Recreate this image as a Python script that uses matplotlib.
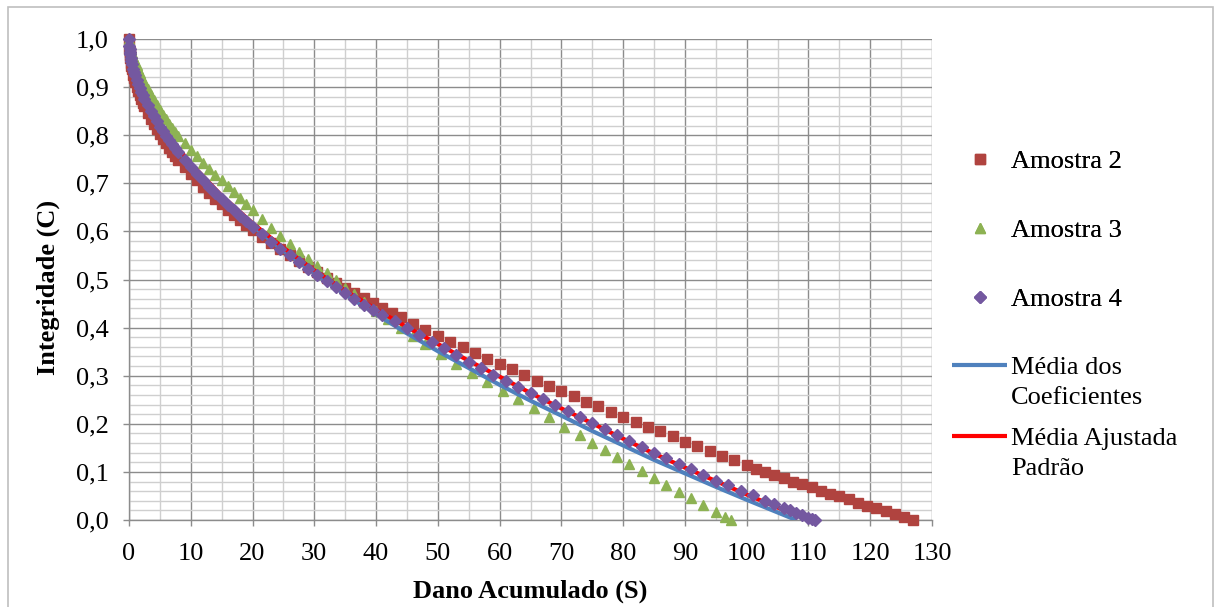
import matplotlib
matplotlib.use("Agg")
import matplotlib.pyplot as plt
from matplotlib.ticker import MultipleLocator, FuncFormatter
from matplotlib.patches import Rectangle
from matplotlib.legend_handler import HandlerLine2D

plt.rcParams['font.family'] = ['Liberation Serif', 'DejaVu Serif']

# ---------------- data ----------------
s_a2 = [0, 0.05, 0.1, 0.15, 0.2, 0.3, 0.4, 0.5, 0.7, 0.85, 1, 1.25, 1.5, 1.75, 2, 2.25, 2.5, 3, 3.5, 4, 4.5,
        5, 5.5, 6, 6.5, 7, 7.5, 8, 9, 10, 11, 12, 13, 14, 15, 16, 17, 18, 19, 20,
        21.5, 23, 24.5, 26, 27.5, 29, 30.5, 32, 33.5, 35, 36.5, 38, 39.5, 41, 42.5, 44, 46, 48, 50, 52, 54,
        56, 58, 60, 62, 64, 66, 68, 70, 72, 74, 76, 78, 80, 82, 84, 86, 88, 90, 92, 94, 96, 98, 100, 101.5,
        103, 104.5, 106, 107.5, 109, 110.5, 112, 113.5, 115, 116.5, 118, 119.5, 121, 122.5, 124, 125.5, 127]
c_a2 = [1.000, 0.980, 0.972, 0.966, 0.960, 0.951, 0.944, 0.937, 0.926, 0.918, 0.911, 0.901, 0.891, 0.883,
        0.875, 0.867, 0.860, 0.846, 0.834, 0.823, 0.812, 0.802, 0.792, 0.783, 0.774, 0.765, 0.757, 0.749,
        0.734, 0.720, 0.706, 0.693, 0.680, 0.668, 0.656, 0.645, 0.634, 0.624, 0.613, 0.603, 0.589, 0.575,
        0.564, 0.551, 0.539, 0.527, 0.515, 0.504, 0.493, 0.482, 0.471, 0.461, 0.451, 0.441, 0.431, 0.422,
        0.408, 0.395, 0.383, 0.371, 0.359, 0.347, 0.335, 0.324, 0.313, 0.301, 0.290, 0.279, 0.268, 0.257,
        0.246, 0.236, 0.225, 0.215, 0.204, 0.194, 0.184, 0.174, 0.163, 0.153, 0.144, 0.134, 0.124, 0.115,
        0.107, 0.100, 0.093, 0.087, 0.080, 0.074, 0.068, 0.061, 0.055, 0.049, 0.043, 0.036, 0.030, 0.024,
        0.018, 0.012, 0.006, 0.000]

s_a3 = [0, 0.05, 0.1, 0.15, 0.2, 0.3, 0.4, 0.5, 0.7, 0.85, 1, 1.25, 1.5, 1.75, 2, 2.25, 2.5, 3, 3.5, 4, 4.5,
        5, 5.5, 6, 6.5, 7, 7.5, 8, 9, 10, 11, 12, 13, 14, 15, 16, 17, 18, 19, 20,
        21.5, 23, 24.5, 26, 27.5, 29, 30.5, 32, 33.5, 35, 36.5, 38, 40, 42, 44, 46, 48, 50.5, 53, 55.5, 58,
        60.5, 63, 65.5, 68, 70.5, 73, 75, 77, 79, 81, 83, 85, 87, 89, 91, 93, 95, 96.5, 97.5]
c_a3 = [1.000, 0.994, 0.990, 0.987, 0.984, 0.979, 0.974, 0.970, 0.963, 0.958, 0.953, 0.945, 0.937, 0.929,
        0.922, 0.915, 0.908, 0.896, 0.884, 0.873, 0.862, 0.852, 0.842, 0.833, 0.824, 0.815, 0.807, 0.799,
        0.784, 0.770, 0.756, 0.743, 0.730, 0.718, 0.706, 0.694, 0.682, 0.669, 0.656, 0.644, 0.626, 0.608,
        0.590, 0.574, 0.558, 0.543, 0.528, 0.513, 0.498, 0.483, 0.469, 0.454, 0.435, 0.417, 0.399, 0.382,
        0.365, 0.345, 0.325, 0.305, 0.287, 0.269, 0.252, 0.233, 0.214, 0.194, 0.176, 0.161, 0.146, 0.131,
        0.116, 0.102, 0.088, 0.073, 0.059, 0.045, 0.031, 0.017, 0.007, 0.000]

s_a4 = [0, 0.05, 0.1, 0.15, 0.2, 0.3, 0.4, 0.5, 0.7, 0.85, 1, 1.25, 1.5, 1.75, 2, 2.25, 2.5, 3, 3.5, 4, 4.5,
        5, 5.5, 6, 6.5, 7, 7.5, 8, 9, 10, 11, 12, 13, 14, 15, 16, 17, 18, 19, 20,
        21.5, 23, 24.5, 26, 27.5, 29, 30.5, 32, 33.5, 35, 36.5, 38, 39.5, 41, 43, 45, 47, 49, 51, 53, 55,
        57, 59, 61, 63, 65, 67, 69, 71, 73, 75, 77, 79, 81, 83, 85, 87, 89, 91, 93, 95, 97, 99, 101, 103,
        104.5, 106, 107, 108, 109, 110, 110.5, 111]
c_a4 = [1.000, 0.986, 0.979, 0.974, 0.969, 0.961, 0.955, 0.949, 0.938, 0.931, 0.925, 0.915, 0.906, 0.898,
        0.890, 0.883, 0.876, 0.863, 0.851, 0.839, 0.829, 0.818, 0.808, 0.799, 0.790, 0.781, 0.773, 0.765,
        0.749, 0.734, 0.720, 0.706, 0.693, 0.680, 0.667, 0.655, 0.644, 0.632, 0.621, 0.610, 0.595, 0.579,
        0.564, 0.550, 0.536, 0.522, 0.509, 0.496, 0.484, 0.472, 0.460, 0.448, 0.437, 0.427, 0.413, 0.399,
        0.385, 0.371, 0.357, 0.343, 0.329, 0.316, 0.302, 0.289, 0.277, 0.264, 0.251, 0.239, 0.226, 0.214,
        0.201, 0.189, 0.177, 0.165, 0.152, 0.140, 0.129, 0.117, 0.106, 0.094, 0.082, 0.072, 0.061, 0.051,
        0.040, 0.033, 0.025, 0.020, 0.015, 0.010, 0.005, 0.003, 0.000]

s_media_coef = [0, 0.5, 1, 2, 3, 5, 7, 10, 15, 20, 25, 30, 35, 40, 45, 50, 55, 60, 65, 70, 75, 80, 85, 90,
                95, 100, 104, 108]
c_media_coef = [1.000, 0.951, 0.928, 0.894, 0.867, 0.822, 0.785, 0.737, 0.670, 0.612, 0.560, 0.513, 0.469,
                0.428, 0.388, 0.351, 0.316, 0.281, 0.248, 0.217, 0.185, 0.155, 0.125, 0.097, 0.069, 0.042,
                0.021, 0.000]

s_media_ajust = [0, 0.5, 1, 2, 3, 5, 7, 10, 15, 20, 25, 30, 35, 40, 45, 50, 55, 60, 65, 70, 75, 80, 85, 90,
                 95, 100, 105, 110]
c_media_ajust = [1.000, 0.952, 0.929, 0.895, 0.868, 0.825, 0.788, 0.741, 0.674, 0.617, 0.566, 0.519, 0.477,
                 0.438, 0.401, 0.366, 0.331, 0.298, 0.264, 0.232, 0.201, 0.169, 0.138, 0.109, 0.081, 0.053,
                 0.026, 0.000]

labels = ["Amostra 2", "Amostra 3", "Amostra 4", "Média dos\nCoeficientes", "Média Ajustada\nPadrão"]
x_ticks = list(range(0, 131, 10))
y_ticks = [0.0, 0.1, 0.2, 0.3, 0.4, 0.5, 0.6, 0.7, 0.8, 0.9, 1.0]

# ---------------- figure ----------------
W, H = 1214, 607
FS = 19
fig = plt.figure(figsize=(W / 100, H / 100), dpi=100)
ax = fig.add_axes([129 / W, 1 - 520 / H, (932 - 129) / W, (520 - 39) / H])

col_a2 = '#B0433F'
col_a3 = '#8DB253'
col_a4 = '#7458A0'

h2, = ax.plot(s_a2, c_a2, ls='none', marker='s', ms=6.8, mfc=col_a2, mec=col_a2, clip_on=False, zorder=3,
              label=labels[0])
h3, = ax.plot(s_a3, c_a3, ls='none', marker='^', ms=7.4, mfc=col_a3, mec=col_a3, clip_on=False, zorder=4,
              label=labels[1])
hb, = ax.plot(s_media_coef, c_media_coef, color='#4F81BD', lw=3.0, zorder=5, label=labels[3],
              solid_capstyle='butt')
hr, = ax.plot(s_media_ajust, c_media_ajust, color='#FF0000', lw=3.0, zorder=6, label=labels[4],
              solid_capstyle='butt')
h4, = ax.plot(s_a4, c_a4, ls='none', marker='D', ms=5.8, mfc=col_a4, mec=col_a4, clip_on=False, zorder=7,
              label=labels[2])

ax.set_xlim(0, 130)
ax.set_ylim(0, 1.0)
ax.set_xticks(x_ticks)
ax.set_yticks(y_ticks)
ax.xaxis.set_minor_locator(MultipleLocator(5))
ax.yaxis.set_minor_locator(MultipleLocator(0.02))
ax.yaxis.set_major_formatter(FuncFormatter(lambda v, p: f"{v:.1f}".replace('.', ',')))

ax.grid(which='major', color='#8C8C8C', lw=1.0, zorder=0)
ax.grid(which='minor', color='#CFCFCF', lw=1.0, zorder=0)
ax.set_axisbelow(True)

for sp in ['top', 'right']:
    ax.spines[sp].set_visible(False)
for sp in ['left', 'bottom']:
    ax.spines[sp].set_color('#8C8C8C')
    ax.spines[sp].set_linewidth(1.0)

ax.tick_params(which='major', direction='out', length=4.5, width=1, color='#8C8C8C', labelsize=FS,
               labelcolor='black')
ax.tick_params(axis='x', which='major', pad=12)
ax.tick_params(axis='y', which='major', pad=10)
ax.tick_params(which='minor', length=0)

fig.text(48 / W, 1 - 287 / H, "Integridade (C)", rotation=90, ha='center', va='center',
         fontsize=FS, fontweight='bold')
fig.text(530 / W, 1 - 591 / H, "Dano Acumulado (S)", ha='center', va='center',
         fontsize=FS, fontweight='bold')


class FirstLineHandler(HandlerLine2D):
    """Line handle placed level with the first line of a two-line label."""
    def __init__(self, shift, **kw):
        super().__init__(**kw)
        self.shift = shift

    def create_artists(self, legend, orig_handle, xdescent, ydescent, width, height, fontsize, trans):
        arts = super().create_artists(legend, orig_handle, xdescent, ydescent, width, height, fontsize, trans)
        for a in arts:
            a.set_ydata([v + self.shift for v in a.get_ydata()])
        return arts


# legends
leg1 = fig.legend(handles=[h2, h3, h4], labels=labels[:3], loc='upper left',
                  bbox_to_anchor=(952 / W, 1 - 150 / H), frameon=False, fontsize=FS,
                  labelspacing=1.72, handlelength=2.1, handletextpad=0.15, borderpad=0, borderaxespad=0)
up = FirstLineHandler(shift=12.6)
leg2 = fig.legend(handles=[hb, hr], labels=labels[3:], loc='upper left',
                  bbox_to_anchor=(952 / W, 1 - 357 / H), frameon=False, fontsize=FS,
                  labelspacing=0.74, handlelength=2.1, handletextpad=0.15, borderpad=0, borderaxespad=0,
                  handler_map={hb: up, hr: up})
for t in leg2.get_texts():
    t.set_linespacing(1.45)
fig.add_artist(leg1)

# outer chart border
fig.add_artist(Rectangle((8 / W, -0.05), (1213 - 8) / W, 1.05 - 7 / H, transform=fig.transFigure,
                         fill=False, edgecolor='#BFBFBF', lw=1.2))

fig.savefig("out.png", dpi=100)
